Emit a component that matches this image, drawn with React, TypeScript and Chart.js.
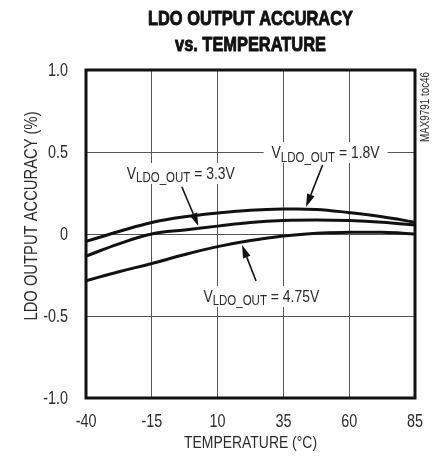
import React, { useEffect, useRef } from "react";
import { Chart, registerables } from "chart.js";

Chart.register(...registerables);

// ---- data ----
const temperatures = [-40, -27.5, -15, -2.5, 10, 22.5, 35, 47.5, 60, 72.5, 85];
const accuracy18V = [-0.045, 0.015, 0.07, 0.105, 0.128, 0.145, 0.152, 0.15, 0.13, 0.105, 0.072];
const accuracy33V = [-0.135, -0.06, 0.0, 0.025, 0.048, 0.07, 0.082, 0.085, 0.082, 0.072, 0.055];
const accuracy475V = [-0.285, -0.23, -0.18, -0.125, -0.077, -0.04, -0.012, 0.005, 0.01, 0.01, 0.0];
const seriesValues = ["1.8V", "3.3V", "4.75V"];
const xTickValues = [-40, -15, 10, 35, 60, 85];
const yTickValues = [-1, -0.5, 0, 0.5, 1];
const xTickLabels = ["-40", "-15", "10", "35", "60", "85"];
const yTickLabels = ["-1.0", "-0.5", "0", "0.5", "1.0"];

const titleLines = ["LDO OUTPUT ACCURACY", "vs. TEMPERATURE"];
const xTitle = "TEMPERATURE (°C)";
const yTitle = "LDO OUTPUT ACCURACY (%)";
const sideNote = "MAX9791 toc46";

const FAMILY = "'Liberation Sans', Arial, sans-serif";
const NARROW = 0.82;
const TEXT = "#2a2a2a";

// annotation anchors in data coordinates (temperature, %)
const annotations = [
  { label: seriesValues[0], tx: 30.5, ty: 0.5, tail: [49.9, 0.421], tip: [43.6, 0.165] },
  { label: seriesValues[1], tx: -24.5, ty: 0.372, tail: [-3.6, 0.288], tip: [2.7, 0.049] },
  { label: seriesValues[2], tx: 4.6, ty: -0.378, tail: [24.6, -0.287], tip: [19.3, -0.067] },
];

function font(size: number, bold = false) {
  return `${bold ? "bold " : ""}${size}px ${FAMILY}`;
}

function measure(ctx: CanvasRenderingContext2D, text: string, size: number, bold = false) {
  ctx.font = font(size, bold);
  return ctx.measureText(text).width * NARROW;
}

function drawNarrow(
  ctx: CanvasRenderingContext2D,
  text: string,
  x: number,
  y: number,
  size: number,
  align: CanvasTextAlign = "left",
  bold = false,
  rotate = 0,
  heavy = 0
) {
  ctx.save();
  ctx.translate(x, y);
  if (rotate) ctx.rotate(rotate);
  ctx.scale(NARROW, 1);
  ctx.font = font(size, bold);
  ctx.textAlign = align;
  ctx.textBaseline = "alphabetic";
  ctx.fillText(text, 0, 0);
  if (heavy) {
    ctx.strokeStyle = ctx.fillStyle as string;
    ctx.lineWidth = heavy;
    ctx.lineJoin = "round";
    ctx.strokeText(text, 0, 0);
  }
  ctx.restore();
}

function labelParts(ctx: CanvasRenderingContext2D, value: string) {
  const rest = ` = ${value}`;
  const wV = measure(ctx, "V", 17);
  const wSub = measure(ctx, "LDO_OUT", 14);
  const wRest = measure(ctx, rest, 17);
  return { rest, wV, wSub, wRest, total: wV + wSub + wRest };
}

const annPlugin = {
  id: "annotations",
  beforeDatasetsDraw(chart: any) {
    const ctx = chart.ctx as CanvasRenderingContext2D;
    const xs = chart.scales.x, ys = chart.scales.y;
    ctx.save();
    ctx.fillStyle = "#ffffff";
    for (const a of annotations) {
      const p = labelParts(ctx, a.label);
      const x = xs.getPixelForValue(a.tx);
      const y = ys.getPixelForValue(a.ty);
      ctx.fillRect(x - 8, y - 10, p.total + 16, 21);
    }
    ctx.restore();
  },
  afterDatasetsDraw(chart: any) {
    const ctx = chart.ctx as CanvasRenderingContext2D;
    const xs = chart.scales.x, ys = chart.scales.y;
    const area = chart.chartArea;
    ctx.save();
    for (const a of annotations) {
      const p = labelParts(ctx, a.label);
      const x = xs.getPixelForValue(a.tx);
      const y = ys.getPixelForValue(a.ty) + 6;
      ctx.fillStyle = TEXT;
      drawNarrow(ctx, "V", x, y, 17);
      drawNarrow(ctx, "LDO_OUT", x + p.wV, y + 3.5, 14);
      drawNarrow(ctx, p.rest, x + p.wV + p.wSub, y, 17);
      // arrow
      const x0 = xs.getPixelForValue(a.tail[0]);
      const y0 = ys.getPixelForValue(a.tail[1]);
      const x1 = xs.getPixelForValue(a.tip[0]);
      const y1 = ys.getPixelForValue(a.tip[1]);
      const ang = Math.atan2(y1 - y0, x1 - x0);
      const hl = 13, hw = 4;
      const bx = x1 - hl * Math.cos(ang), by = y1 - hl * Math.sin(ang);
      ctx.strokeStyle = "#111";
      ctx.lineWidth = 1.6;
      ctx.beginPath();
      ctx.moveTo(x0, y0);
      ctx.lineTo(bx, by);
      ctx.stroke();
      ctx.fillStyle = "#111";
      ctx.beginPath();
      ctx.moveTo(x1, y1);
      ctx.lineTo(bx + hw * Math.sin(ang), by - hw * Math.cos(ang));
      ctx.lineTo(bx - hw * Math.sin(ang), by + hw * Math.cos(ang));
      ctx.closePath();
      ctx.fill();
    }
    // frame
    ctx.strokeStyle = "#111";
    ctx.lineWidth = 3;
    ctx.strokeRect(area.left, area.top, area.right - area.left, area.bottom - area.top);
    ctx.restore();
  },
  afterDraw(chart: any) {
    const ctx = chart.ctx as CanvasRenderingContext2D;
    const area = chart.chartArea;
    const xs = chart.scales.x, ys = chart.scales.y;
    const cx = (area.left + area.right) / 2;
    ctx.save();
    // tick labels
    ctx.fillStyle = TEXT;
    xTickValues.forEach((v, i) => {
      drawNarrow(ctx, xTickLabels[i], xs.getPixelForValue(v), area.bottom + 29, 17.5, "center");
    });
    yTickValues.forEach((v, i) => {
      drawNarrow(ctx, yTickLabels[i], area.left - 18, ys.getPixelForValue(v) + 6, 17.5, "right");
    });
    // titles
    ctx.fillStyle = "#111";
    drawNarrow(ctx, titleLines[0], cx, 25, 20, "center", true, 0, 0.9);
    drawNarrow(ctx, titleLines[1], cx, 51, 20, "center", true, 0, 0.9);
    ctx.fillStyle = TEXT;
    drawNarrow(ctx, xTitle, cx, 448, 17, "center");
    drawNarrow(ctx, yTitle, 37, 216, 18, "center", false, -Math.PI / 2);
    drawNarrow(ctx, sideNote, 429, 107, 12, "center", false, -Math.PI / 2);
    ctx.restore();
  },
};

export default function App() {
  const ref = useRef<HTMLCanvasElement | null>(null);
  useEffect(() => {
    if (!ref.current) return;
    const mk = (data: number[], i: number) => ({
      label: seriesValues[i],
      data: temperatures.map((t, j) => ({ x: t, y: data[j] })),
      borderColor: "#111",
      borderWidth: 3,
      pointRadius: 0,
      tension: 0.4,
      fill: false,
    });
    const chart = new Chart(ref.current, {
      type: "line",
      data: {
        datasets: [mk(accuracy18V, 0), mk(accuracy33V, 1), mk(accuracy475V, 2)],
      },
      options: {
        responsive: false,
        animation: false,
        layout: { padding: { left: 0, top: 70, right: 20, bottom: 0 } },
        plugins: { legend: { display: false }, tooltip: { enabled: false }, title: { display: false } },
        scales: {
          x: {
            type: "linear",
            min: xTickValues[0],
            max: xTickValues[xTickValues.length - 1],
            afterBuildTicks: (s: any) => {
              s.ticks = xTickValues.map((v) => ({ value: v }));
            },
            ticks: { display: false },
            grid: { color: "#555", lineWidth: 1, drawTicks: false },
            border: { display: false },
            afterFit: (s: any) => {
              s.height = 63;
            },
          },
          y: {
            type: "linear",
            min: yTickValues[0],
            max: yTickValues[yTickValues.length - 1],
            afterBuildTicks: (s: any) => {
              s.ticks = yTickValues.map((v) => ({ value: v }));
            },
            ticks: { display: false },
            grid: { color: "#555", lineWidth: 1, drawTicks: false },
            border: { display: false },
            afterFit: (s: any) => {
              s.width = 86;
            },
          },
        },
      },
      plugins: [annPlugin],
    });
    return () => chart.destroy();
  }, []);
  return (
    <div style={{ position: "fixed", left: 0, top: 0, width: 435, height: 461, background: "#fff" }}>
      <canvas ref={ref} width={435} height={461} />
    </div>
  );
}
